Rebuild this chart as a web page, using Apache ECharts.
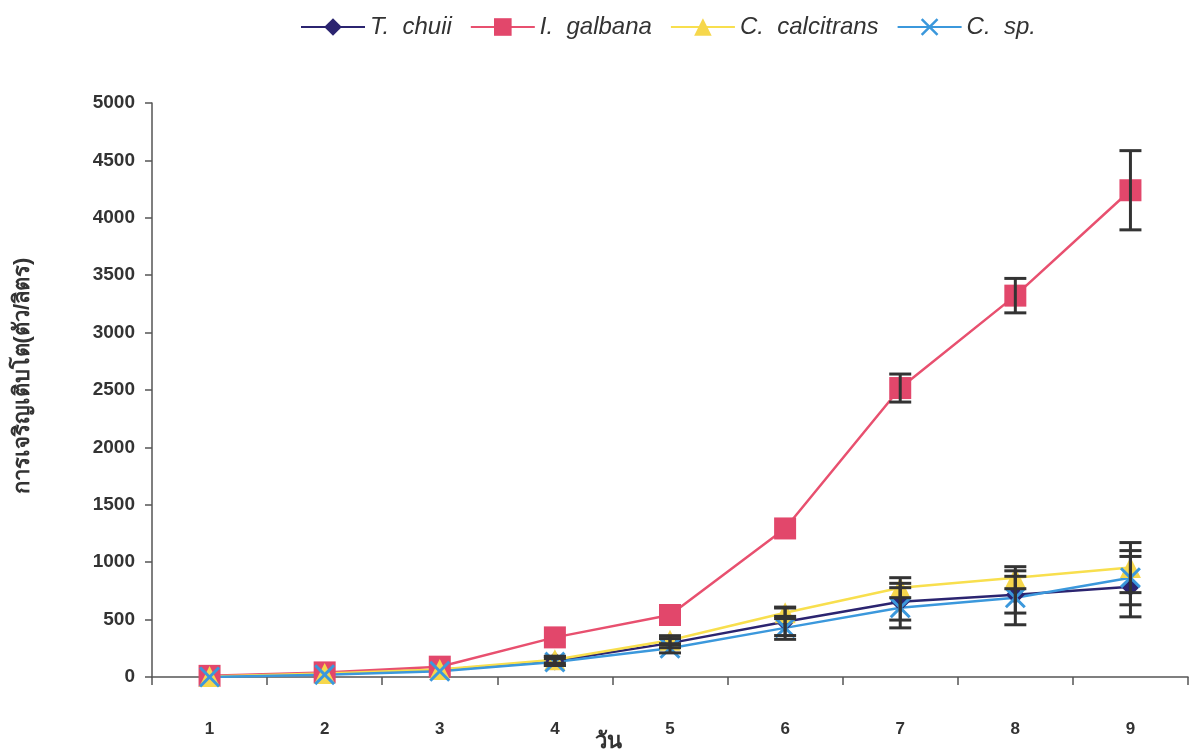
<!DOCTYPE html>
<html>
<head>
<meta charset="utf-8">
<script src="https://cdn.jsdelivr.net/npm/echarts@6/dist/echarts.min.js"></script>
<style>
  html, body { margin: 0; padding: 0; background: #fff; }
  #chart { width: 1192px; height: 756px; }
</style>
</head>
<body>
<div id="chart"></div>
<script>
  // วัน (day)
  var days = ['1', '2', '3', '4', '5', '6', '7', '8', '9'];

  // ค่าเฉลี่ย (ตัว/ลิตร)
  var chuiiVals   = [5, 30, 60, 140, 295, 481, 656, 717, 787];
  var galbanaVals = [10, 40, 90, 345, 540, 1294, 2517, 3322, 4240];
  var calciVals   = [5, 30, 65, 150, 320, 559, 778, 865, 953];
  var spVals      = [0, 20, 50, 130, 250, 428, 603, 690, 865];

  // ค่าความคลาดเคลื่อน (+/-)
  var chuiiErr   = [0, 0, 0, 40, 40, 120, 160, 160, 263];
  var galbanaErr = [0, 0, 0, 0, 0, 0, 122, 150, 345];
  var calciErr   = [0, 0, 0, 30, 40, 50, 87, 96, 218];
  var spErr      = [0, 0, 0, 30, 40, 100, 175, 235, 236];

  var names = ['T. chuii', 'I. galbana', 'C. calcitrans', 'C. sp.'];

  var crossPath = 'path://M0,1L1,0L5,4L9,0L10,1L6,5L10,9L9,10L5,6L1,10L0,9L4,5Z';

  var myChart = echarts.init(document.getElementById('chart'));

  // แปลงค่า +/- เป็นข้อมูลสำหรับ error bar
  function errData(vals, errs) {
    var out = [];
    for (var i = 0; i < vals.length; i++) {
      if (errs[i] > 0) out.push([i, vals[i] - errs[i], vals[i] + errs[i]]);
    }
    return out;
  }

  function renderErr(params, api) {
    var x = api.value(0);
    var lo = api.coord([x, api.value(1)]);
    var hi = api.coord([x, api.value(2)]);
    var half = 11;
    var st = { stroke: '#333', lineWidth: 3 };
    return {
      type: 'group',
      children: [
        { type: 'line', shape: { x1: hi[0], y1: hi[1], x2: lo[0], y2: lo[1] }, style: st },
        { type: 'line', shape: { x1: hi[0] - half, y1: hi[1], x2: hi[0] + half, y2: hi[1] }, style: st },
        { type: 'line', shape: { x1: lo[0] - half, y1: lo[1], x2: lo[0] + half, y2: lo[1] }, style: st }
      ]
    };
  }

  function errSeries(vals, errs) {
    return {
      type: 'custom',
      renderItem: renderErr,
      data: errData(vals, errs),
      encode: { x: 0, y: [1, 2] },
      z: 5,
      silent: true
    };
  }

  myChart.setOption({
    animation: false,
    textStyle: { fontFamily: 'Liberation Sans, Arial, sans-serif' },
    legend: {
      data: names,
      top: 10,
      left: 295,
      itemWidth: 64,
      itemHeight: 22,
      itemGap: 18,
      formatter: function (n) { return n.replace('. ', '.  '); },
      textStyle: { fontSize: 24, fontStyle: 'italic', color: '#333' }
    },
    grid: { left: 152, right: 4, top: 103, bottom: 79, outerBoundsMode: 'none' },
    xAxis: {
      type: 'category',
      data: days,
      boundaryGap: true,
      name: 'วัน',
      nameLocation: 'center',
      nameGap: 54,
      nameMoveOverlap: false,
      nameTextStyle: {
        fontSize: 22, fontWeight: 'bold', color: '#333',
        padding: [0, 124, 0, 0]
      },
      axisLine: { lineStyle: { color: '#555', width: 1.5 } },
      axisTick: { show: true, length: 8, alignWithLabel: false, lineStyle: { color: '#555', width: 1.5 } },
      axisLabel: { fontSize: 17, fontWeight: 'bold', color: '#333', margin: 44 }
    },
    yAxis: {
      type: 'value',
      min: 0,
      max: 5000,
      interval: 500,
      name: 'การเจริญเติบโต(ตัว/ลิตร)',
      nameLocation: 'center',
      nameRotate: 90,
      nameGap: 118,
      nameTextStyle: { fontSize: 22, fontWeight: 'bold', color: '#333', padding: [0, 0, 0, 28] },
      axisLine: { show: true, lineStyle: { color: '#555', width: 1.5 } },
      axisTick: { show: true, length: 7, lineStyle: { color: '#555', width: 1.5 } },
      axisLabel: {
        fontSize: 19, fontWeight: 'bold', color: '#333', margin: 17,
        formatter: function (v) { return String(v); }
      },
      splitLine: { show: false }
    },
    series: [
      {
        name: 'T. chuii', type: 'line', data: chuiiVals,
        symbol: 'diamond', symbolSize: 19,
        lineStyle: { color: '#2b2470', width: 2.5 },
        itemStyle: { color: '#2b2470' }
      },
      {
        name: 'I. galbana', type: 'line', data: galbanaVals,
        symbol: 'rect', symbolSize: 22,
        lineStyle: { color: '#e8506f', width: 2.5 },
        itemStyle: { color: '#e2476b' }
      },
      {
        name: 'C. calcitrans', type: 'line', data: calciVals,
        symbol: 'triangle', symbolSize: 21,
        lineStyle: { color: '#f8df4e', width: 2.5 },
        itemStyle: { color: '#f6d74c' }
      },
      {
        name: 'C. sp.', type: 'line', data: spVals,
        symbol: crossPath, symbolSize: 21,
        lineStyle: { color: '#3b98dc', width: 2.5 },
        itemStyle: { color: '#3b98dc' }
      },
      errSeries(chuiiVals, chuiiErr),
      errSeries(galbanaVals, galbanaErr),
      errSeries(calciVals, calciErr),
      errSeries(spVals, spErr)
    ]
  });

  window.addEventListener('resize', function () { myChart.resize(); });
</script>
</body>
</html>
